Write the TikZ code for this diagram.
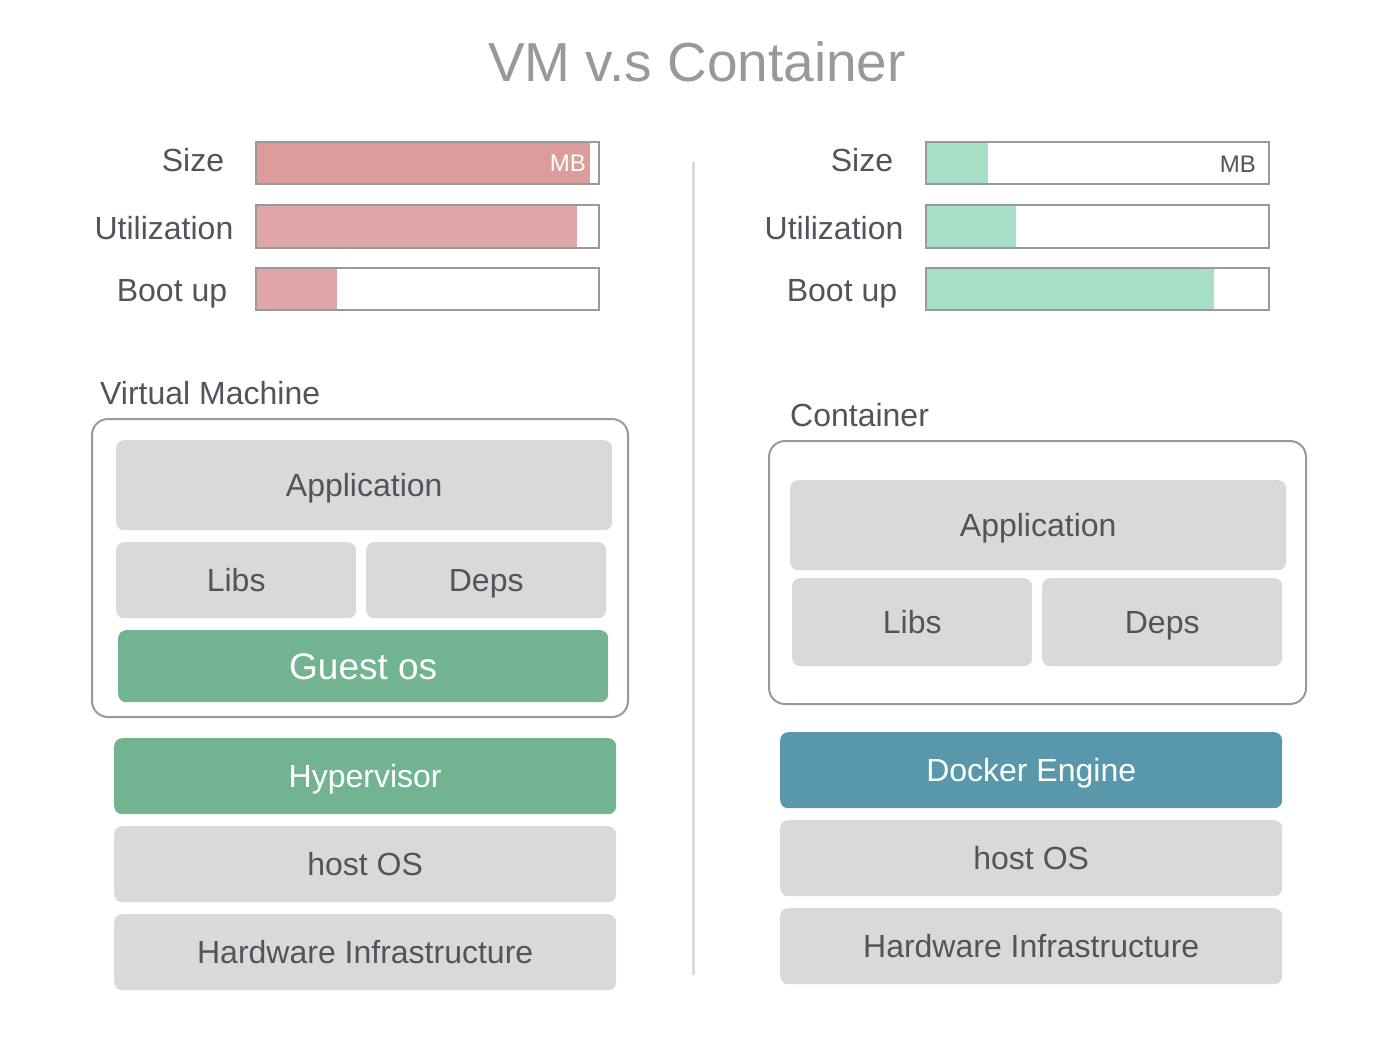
\documentclass[tikz,border=0pt]{standalone}
\usepackage{fontspec}
\setmainfont{Liberation Sans}
\definecolor{boxgray}{HTML}{D9D9D9}
\definecolor{txt}{HTML}{50555C}
\definecolor{vmgreen}{HTML}{72B491}
\definecolor{dockblue}{HTML}{5898AA}
\definecolor{pinkA}{HTML}{DC9C9C}
\definecolor{pinkB}{HTML}{DEA6A6}
\definecolor{mint}{HTML}{A6DEC6}
\definecolor{bord}{HTML}{999999}
\definecolor{divc}{HTML}{DADADA}
\definecolor{titlec}{HTML}{999999}
\begin{document}
\begin{tikzpicture}[x=1pt,y=-1pt,
  lbl/.style={font=\fontsize{32}{38}\selectfont, text=txt, inner sep=0pt, text height=23pt, text depth=0pt},
  layer/.style={fill=boxgray, rounded corners=8pt, inner sep=0pt},
  green/.style={layer, fill=vmgreen},
  blue/.style={layer, fill=dockblue},
  outer/.style={draw=bord, line width=2pt, rounded corners=16pt},
  barframe/.style={draw=bord, line width=2.2pt},
  mb/.style={font=\fontsize{24}{28}\selectfont, anchor=east, inner sep=0pt, text height=17.3pt, text depth=0pt}
]
\useasboundingbox (0,0) rectangle (1394,1044);

% title
\node[font=\fontsize{55}{62}\selectfont, text=titlec, inner sep=0pt, text height=39.6pt, text depth=0pt] (title) at (697,62) {VM v.s Container};

% divider
\draw[divc, line width=3pt] (693,162) -- (693,975);

% ---- left bars
\node[lbl] (lsize) at (193,160) {Size};
\node[lbl] (lutil) at (164,228) {Utilization};
\node[lbl] (lboot) at (172,290) {Boot up};

\fill[pinkA] (255,141) rectangle (590,183);
\node[barframe, minimum width=343pt, minimum height=42pt, anchor=north west, inner sep=0pt] (lbar1) at (255,141) {};
\node[mb, text=white] (lmb) at (586,163) {MB};
\fill[pinkB] (255,204) rectangle (577,247);
\node[barframe, minimum width=343pt, minimum height=43pt, anchor=north west, inner sep=0pt] (lbar2) at (255,204) {};
\fill[pinkB] (255,267) rectangle (337,309);
\node[barframe, minimum width=343pt, minimum height=42pt, anchor=north west, inner sep=0pt] (lbar3) at (255,267) {};

% ---- right bars
\node[lbl] (rsize) at (862,160) {Size};
\node[lbl] (rutil) at (834,228) {Utilization};
\node[lbl] (rboot) at (842,290) {Boot up};

\fill[mint] (925,141) rectangle (988,183);
\node[barframe, minimum width=343pt, minimum height=42pt, anchor=north west, inner sep=0pt] (rbar1) at (925,141) {};
\node[mb, text=txt] (rmb) at (1256,164) {MB};
\fill[mint] (925,204) rectangle (1016,247);
\node[barframe, minimum width=343pt, minimum height=43pt, anchor=north west, inner sep=0pt] (rbar2) at (925,204) {};
\fill[mint] (925,267) rectangle (1214,309);
\node[barframe, minimum width=343pt, minimum height=42pt, anchor=north west, inner sep=0pt] (rbar3) at (925,267) {};

% ---- Virtual machine
\node[lbl, anchor=west] (vmlabel) at (100,393) {Virtual Machine};
\node[outer, minimum width=536pt, minimum height=298pt, anchor=north west, inner sep=0pt] (vmbox) at (91,418) {};
\node[layer, minimum width=496pt, minimum height=90pt, anchor=north west] (vmapp) at (116,440) {};
\node[lbl] at (vmapp.center) {Application};
\node[layer, minimum width=240pt, minimum height=76pt, anchor=north west] (vmlibs) at (116,542) {};
\node[lbl] at (vmlibs.center) {Libs};
\node[layer, minimum width=240pt, minimum height=76pt, anchor=north west] (vmdeps) at (366,542) {};
\node[lbl] at (vmdeps.center) {Deps};
\node[green, minimum width=490pt, minimum height=72pt, anchor=north west] (guest) at (118,630) {};
\node[font=\fontsize{37}{44}\selectfont, text=white, inner sep=0pt, text height=26.6pt, text depth=0pt] at (guest.center) {Guest os};

\node[green, minimum width=502pt, minimum height=76pt, anchor=north west] (hyper) at (114,738) {};
\node[lbl, text=white] at (hyper.center) {Hypervisor};
\node[layer, minimum width=502pt, minimum height=76pt, anchor=north west] (lhost) at (114,826) {};
\node[lbl] at (lhost.center) {host OS};
\node[layer, minimum width=502pt, minimum height=76pt, anchor=north west] (lhw) at (114,914) {};
\node[lbl] at (lhw.center) {Hardware Infrastructure};

% ---- Container
\node[lbl, anchor=west] (ctlabel) at (790,415) {Container};
\node[outer, minimum width=537pt, minimum height=263pt, anchor=north west, inner sep=0pt] (ctbox) at (768,440) {};
\node[layer, minimum width=496pt, minimum height=90pt, anchor=north west] (ctapp) at (790,480) {};
\node[lbl] at (ctapp.center) {Application};
\node[layer, minimum width=240pt, minimum height=88pt, anchor=north west] (ctlibs) at (792,578) {};
\node[lbl] at (ctlibs.center) {Libs};
\node[layer, minimum width=240pt, minimum height=88pt, anchor=north west] (ctdeps) at (1042,578) {};
\node[lbl] at (ctdeps.center) {Deps};

\node[blue, minimum width=502pt, minimum height=76pt, anchor=north west] (docker) at (780,732) {};
\node[lbl, text=white] at (docker.center) {Docker Engine};
\node[layer, minimum width=502pt, minimum height=76pt, anchor=north west] (rhost) at (780,820) {};
\node[lbl] at (rhost.center) {host OS};
\node[layer, minimum width=502pt, minimum height=76pt, anchor=north west] (rhw) at (780,908) {};
\node[lbl] at (rhw.center) {Hardware Infrastructure};
\end{tikzpicture}
\end{document}
